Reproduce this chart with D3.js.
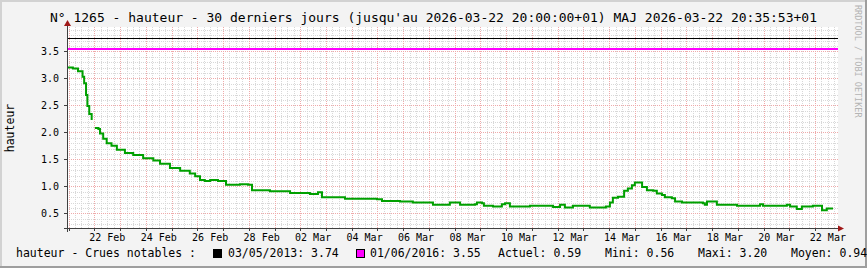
<!DOCTYPE html>
<html lang="fr">
<head>
<meta charset="UTF-8">
<title>hauteur</title>
<script src="https://d3js.org/d3.v7.min.js"></script>
<style>
    body { margin: 0; background: #f3f3f3; }
    svg { display: block; font-family: "DejaVu Sans Mono", monospace; }
</style>
</head>
<body>
<svg></svg>
<script>
// hauteur relevée, null = trou dans les données
const times = [
    "2026-02-20 22:30", "2026-02-21 04:00", "2026-02-21 08:45", "2026-02-21 13:00", "2026-02-21 14:30",
    "2026-02-21 16:15", "2026-02-21 17:30", "2026-02-21 19:15", "2026-02-21 21:30", "2026-02-21 22:45",
    "2026-02-22 00:30", "2026-02-22 03:45", "2026-02-22 05:15", "2026-02-22 08:15", "2026-02-22 11:30",
    "2026-02-22 16:00", "2026-02-22 21:00", "2026-02-23 04:30", "2026-02-23 12:15", "2026-02-23 21:30",
    "2026-02-24 07:00", "2026-02-24 13:15", "2026-02-24 22:30", "2026-02-25 08:00", "2026-02-25 17:00",
    "2026-02-25 22:00", "2026-02-26 02:30", "2026-02-26 07:00", "2026-02-26 12:00", "2026-02-26 19:15",
    "2026-02-27 02:45", "2026-02-27 15:45", "2026-02-27 23:15", "2026-02-28 03:00", "2026-02-28 19:45",
    "2026-03-01 14:30", "2026-03-02 09:00", "2026-03-02 16:30", "2026-03-02 20:15", "2026-03-03 17:45",
    "2026-03-04 23:30", "2026-03-05 04:15", "2026-03-05 21:00", "2026-03-06 09:00", "2026-03-06 22:00",
    "2026-03-07 03:45", "2026-03-07 16:45", "2026-03-07 19:30", "2026-03-08 02:00", "2026-03-08 05:00",
    "2026-03-08 19:00", "2026-03-08 20:45", "2026-03-09 01:30", "2026-03-09 03:15", "2026-03-09 11:45",
    "2026-03-09 20:00", "2026-03-09 23:00", "2026-03-10 03:30", "2026-03-10 22:15", "2026-03-11 19:45",
    "2026-03-12 02:15", "2026-03-12 06:45", "2026-03-12 14:15", "2026-03-12 23:30", "2026-03-13 06:00",
    "2026-03-13 15:30", "2026-03-13 21:00", "2026-03-14 00:45", "2026-03-14 03:30", "2026-03-14 08:15",
    "2026-03-14 13:00", "2026-03-14 14:00", "2026-03-14 17:30", "2026-03-14 21:15", "2026-03-15 00:00",
    "2026-03-15 03:00", "2026-03-15 06:45", "2026-03-15 11:15", "2026-03-15 17:00", "2026-03-15 20:30",
    "2026-03-16 01:15", "2026-03-16 04:00", "2026-03-16 10:30", "2026-03-16 13:30", "2026-03-16 20:00",
    "2026-03-17 06:15", "2026-03-17 15:30", "2026-03-17 17:15", "2026-03-17 19:15", "2026-03-17 22:00",
    "2026-03-18 04:30", "2026-03-18 23:15", "2026-03-19 20:45", "2026-03-19 23:30", "2026-03-20 21:45",
    "2026-03-21 00:45", "2026-03-21 07:00", "2026-03-21 11:45", "2026-03-21 22:00", "2026-03-22 06:30",
    "2026-03-22 11:00", "2026-03-22 16:45"
];
const heights = [
    3.20, 3.18, 3.13, 3.03, 2.91,
    2.69, 2.49, 2.34, 2.23, null,
    2.08, 2.06, 1.98, 1.88, 1.80,
    1.75, 1.68, 1.62, 1.58, 1.52,
    1.48, 1.42, 1.34, 1.29, 1.24,
    1.19, 1.12, 1.10, 1.12, 1.10,
    1.03, 1.04, 1.03, 0.93, 0.91,
    0.88, 0.86, 0.89, 0.80, 0.77,
    0.76, 0.73, 0.72, 0.70, 0.70,
    0.66, 0.66, 0.70, 0.70, 0.66,
    0.67, 0.70, 0.69, 0.64, 0.63,
    0.67, 0.69, 0.63, 0.64, 0.62,
    0.66, 0.61, 0.64, 0.64, 0.61,
    0.61, 0.63, 0.70, 0.79, 0.81,
    0.81, 0.92, 0.96, 1.02, 1.07,
    1.07, 0.99, 0.93, 0.92, 0.87,
    0.84, 0.80, 0.78, 0.72, 0.70,
    0.70, 0.69, 0.66, 0.72, 0.72,
    0.66, 0.64, 0.67, 0.64, 0.66,
    0.63, 0.58, 0.63, 0.64, 0.56,
    0.59, 0.59
];

const tickDays = ["2026-02-22", "2026-02-24", "2026-02-26", "2026-02-28", "2026-03-02", "2026-03-04",
    "2026-03-06", "2026-03-08", "2026-03-10", "2026-03-12", "2026-03-14", "2026-03-16",
    "2026-03-18", "2026-03-20", "2026-03-22"];
const yTicks = [0.5, 1.0, 1.5, 2.0, 2.5, 3.0, 3.5];

// crues notables
const refDates = ["03/05/2013", "01/06/2016"];
const refValues = [3.74, 3.55];

const statNames = ["Actuel", "Mini", "Maxi", "Moyen"];
const statValues = [0.59, 0.56, 3.20, 0.94];

const width = 867, height = 268;
const plot = {left: 67, right: 837, top: 27, bottom: 228};

const parseTime = d3.timeParse("%Y-%m-%d %H:%M");
const parseDay = d3.timeParse("%Y-%m-%d");
const tStart = parseTime("2026-02-20 22:30");
const tEnd = parseTime("2026-03-22 20:30");

const data = times.map((t, i) => ({t: parseTime(t), v: heights[i]}));

const x = d3.scaleTime().domain([tStart, tEnd]).range([plot.left, plot.right]);
const y = d3.scaleLinear().domain([0.23, 3.95]).range([plot.bottom, plot.top]);

const px = v => Math.round(v) + 0.5;

const svg = d3.select("svg")
    .attr("width", width)
    .attr("height", height)
    .attr("viewBox", [0, 0, width, height]);

// fond + bordure
svg.append("rect").attr("width", width).attr("height", height).attr("fill", "#f3f3f3");
svg.append("path").attr("d", `M0,${height} V0 H${width}`).attr("fill", "none").attr("stroke", "#d2d2d2").attr("stroke-width", 4);
svg.append("path").attr("d", `M0,${height} H${width} V0`).attr("fill", "none").attr("stroke", "#9e9e9e").attr("stroke-width", 4);

svg.append("rect")
    .attr("x", plot.left).attr("y", plot.top)
    .attr("width", plot.right - plot.left + 1).attr("height", plot.bottom - plot.top)
    .attr("fill", "#fff");

// grille
const hMinor = d3.range(3, 40).map(i => i / 10).filter(v => Math.round(v * 10) % 5 !== 0);
const vMinor = d3.timeHour.every(6).range(tStart, tEnd).filter(d => d.getHours() !== 0);
const vMajor = d3.timeDay.range(tStart, tEnd);

const minorCol = "#d8d8d8", majorCol = "#efaaaa";

const grid = svg.append("g").attr("stroke-dasharray", "1,1").attr("stroke-width", 1);
grid.append("g").attr("stroke", minorCol).selectAll("line").data(hMinor).join("line")
    .attr("x1", plot.left).attr("x2", plot.right + 1)
    .attr("y1", d => px(y(d))).attr("y2", d => px(y(d)));
grid.append("g").attr("stroke", minorCol).selectAll("line").data(vMinor).join("line")
    .attr("x1", d => px(x(d))).attr("x2", d => px(x(d)))
    .attr("y1", plot.top).attr("y2", plot.bottom);
grid.append("g").attr("stroke", majorCol).selectAll("line").data(yTicks).join("line")
    .attr("x1", plot.left).attr("x2", plot.right + 1)
    .attr("y1", d => px(y(d))).attr("y2", d => px(y(d)));
grid.append("g").attr("stroke", majorCol).selectAll("line").data(vMajor).join("line")
    .attr("x1", d => px(x(d))).attr("x2", d => px(x(d)))
    .attr("y1", plot.top).attr("y2", plot.bottom);

// lignes des crues
const refColors = ["#000000", "#ff00ff"];
svg.append("g").selectAll("line").data(refValues).join("line")
    .attr("x1", plot.left).attr("x2", plot.right + 1)
    .attr("y1", (d, i) => i === 0 ? px(y(d)) : Math.round(y(d)))
    .attr("y2", (d, i) => i === 0 ? px(y(d)) : Math.round(y(d)))
    .attr("stroke", (d, i) => refColors[i])
    .attr("stroke-width", (d, i) => i === 0 ? 1 : 2);

// série
const line = d3.line()
    .defined(d => d.v !== null)
    .curve(d3.curveStepAfter)
    .x(d => x(d.t))
    .y(d => y(d.v));

svg.append("path")
    .datum(data)
    .attr("fill", "none")
    .attr("stroke", "#00a000")
    .attr("stroke-width", 2)
    .attr("d", line);

// axes
const axis = svg.append("g").attr("stroke", "#404040");
axis.append("line").attr("x1", plot.left - 3).attr("x2", plot.right + 2).attr("y1", plot.bottom + 0.5).attr("y2", plot.bottom + 0.5);
axis.append("line").attr("x1", plot.left + 0.5).attr("x2", plot.left + 0.5).attr("y1", plot.top - 3).attr("y2", plot.bottom + 4);
axis.append("g").selectAll("line").data(vMajor).join("line")
    .attr("x1", d => px(x(d))).attr("x2", d => px(x(d)))
    .attr("y1", plot.bottom).attr("y2", plot.bottom + 3);
axis.append("g").selectAll("line").data(yTicks).join("line")
    .attr("x1", plot.left - 3).attr("x2", plot.left)
    .attr("y1", d => px(y(d))).attr("y2", d => px(y(d)));

svg.append("path")
    .attr("d", `M${plot.left - 3},${plot.top - 1} L${plot.left + 0.5},${plot.top - 7} L${plot.left + 4},${plot.top - 1} Z`)
    .attr("fill", "#a01818");
svg.append("path")
    .attr("d", `M${plot.right + 1},${plot.bottom - 2.5} L${plot.right + 7},${plot.bottom + 0.5} L${plot.right + 1},${plot.bottom + 3.5} Z`)
    .attr("fill", "#a01818");

// libellés des axes
const fmtDay = d3.timeFormat("%d %b");
svg.append("g").selectAll("text").data(tickDays).join("text")
    .attr("x", d => x(d3.timeHour.offset(parseDay(d), 12)))
    .attr("y", 241)
    .attr("text-anchor", "middle")
    .attr("font-size", 10)
    .text(d => fmtDay(parseDay(d)));

svg.append("g").selectAll("text").data(yTicks).join("text")
    .attr("x", 59)
    .attr("y", d => y(d))
    .attr("dy", "0.35em")
    .attr("text-anchor", "end")
    .attr("font-size", 10)
    .text(d => d.toFixed(1));

svg.append("text")
    .attr("transform", "translate(14,128) rotate(-90)")
    .attr("text-anchor", "middle")
    .attr("font-size", 11.5)
    .text("hauteur");

svg.append("text")
    .attr("x", width / 2)
    .attr("y", 22)
    .attr("text-anchor", "middle")
    .attr("font-size", 13)
    .text("N° 1265 - hauteur - 30 derniers jours (jusqu'au 2026-03-22 20:00:00+01) MAJ 2026-03-22 20:35:53+01");

svg.append("text")
    .attr("transform", "translate(855,5) rotate(90)")
    .attr("font-size", 8.5)
    .attr("fill", "#b4b4b4")
    .text("RRDTOOL / TOBI OETIKER");

// légende
const legend = svg.append("g").attr("font-size", 11.5);
legend.append("text").attr("x", 16).attr("y", 257).text("hauteur - Crues notables :");

const boxX = [213, 356];
const textX = [228, 370];
refValues.forEach((v, i) => {
    legend.append("rect")
        .attr("x", boxX[i] + 0.5).attr("y", 249.5)
        .attr("width", 8).attr("height", 8)
        .attr("fill", refColors[i]).attr("stroke", "#000");
    legend.append("text").attr("x", textX[i]).attr("y", 257).text(`${refDates[i]}: ${v.toFixed(2)}`);
});

const statX = [498, 605, 698, 791];
statNames.forEach((n, i) => {
    legend.append("text").attr("x", statX[i]).attr("y", 257).text(`${n}: ${statValues[i].toFixed(2)}`);
});
</script>
</body>
</html>
